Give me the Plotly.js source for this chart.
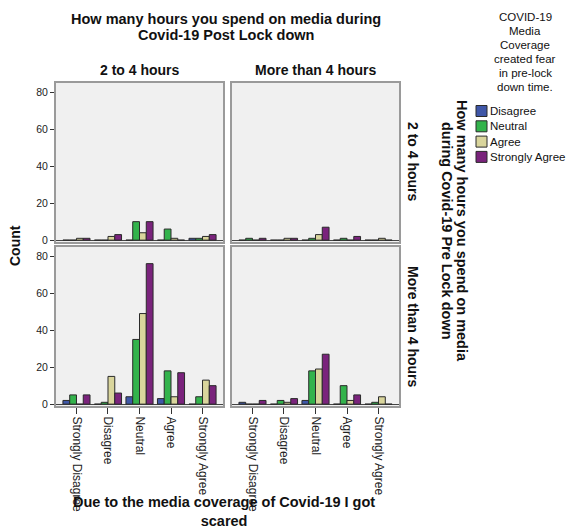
<!DOCTYPE html>
<html>
<head>
<meta charset="utf-8">
<script src="https://cdn.plot.ly/plotly-3.0.1.min.js"></script>
<style>html,body{margin:0;padding:0;background:#fff;}#chart{width:568px;height:531px;}</style>
</head>
<body>
<div id="chart"></div>
<script>
// Categories on the x axis (post lock down response)
const categories = ['Strongly Disagree', 'Disagree', 'Neutral', 'Agree', 'Strongly Agree'];
// Legend series (fear in pre-lock down time)
const seriesNames = ['Disagree', 'Neutral', 'Agree', 'Strongly Agree'];
const seriesColors = ['#3f57a8', '#33b34c', '#d9d59c', '#7a237c'];

// Column facet (Post lock down) and row facet (Pre lock down) labels
const colLabels = ['2 to 4 hours', 'More than 4 hours'];
const rowLabels = ['2 to 4 hours', 'More than 4 hours'];
const legendTitleLines = ['COVID-19', 'Media', 'Coverage', 'created fear', 'in pre-lock', 'down time.'];

// Counts: rows = series (Disagree, Neutral, Agree, Strongly Agree), cols = categories
// Pre 2-4 h / Post 2-4 h
const pre24_post24 = [
  [0, 0, 0, 0, 1],
  [0, 0, 10, 6, 1],
  [1, 2, 4, 1, 2],
  [1, 3, 10, 0, 3]
];
// Pre 2-4 h / Post >4 h
const pre24_postMore = [
  [0, 0, 0, 0, 0],
  [1, 0, 1, 1, 0],
  [0, 1, 3, 0, 1],
  [1, 1, 7, 2, 0]
];
// Pre >4 h / Post 2-4 h
const preMore_post24 = [
  [2, 0, 4, 3, 0],
  [5, 1, 35, 18, 4],
  [0, 15, 49, 4, 13],
  [5, 6, 76, 17, 10]
];
// Pre >4 h / Post >4 h
const preMore_postMore = [
  [1, 0, 2, 0, 0],
  [0, 2, 18, 10, 1],
  [0, 1, 19, 2, 4],
  [2, 3, 27, 5, 0]
];
const yTicks = [0, 20, 40, 60, 80];

const W = 568, H = 531;
const px = (x) => x / W;
const py = (y) => 1 - y / H;
const FONT = 'Liberation Sans, Arial, sans-serif';

const panels = [
  {data: pre24_post24, xa: 'x', ya: 'y'},
  {data: pre24_postMore, xa: 'x2', ya: 'y2'},
  {data: preMore_post24, xa: 'x3', ya: 'y3'},
  {data: preMore_postMore, xa: 'x4', ya: 'y4'}
];

const traces = [];
panels.forEach(p => {
  p.data.forEach((vals, s) => {
    traces.push({
      type: 'bar',
      name: seriesNames[s],
      x: categories,
      y: vals,
      xaxis: p.xa,
      yaxis: p.ya,
      marker: {color: seriesColors[s], line: {color: '#2a2a2a', width: 1}},
      showlegend: false,
      hoverinfo: 'x+y+name'
    });
  });
});

const xDomL = [px(56), px(223)];
const xDomR = [px(232), px(399)];
const yDomT = [py(242), py(83)];
const yDomB = [py(406), py(247)];
const xRange = [-0.65, 4.65];
const yRange = [-1, 85];

function xAxis(domain, anchor, labels) {
  return {
    domain: domain, anchor: anchor, type: 'category',
    categoryorder: 'array', categoryarray: categories,
    range: xRange, automargin: false,
    showgrid: false, zeroline: false,
    showline: true, mirror: true, linecolor: '#9a9a9a', linewidth: 2,
    ticks: labels ? 'outside' : '', ticklen: 6, tickcolor: '#333', tickwidth: 1,
    showticklabels: labels, tickangle: 90,
    tickfont: {family: FONT, size: 12, color: '#222'}
  };
}
function yAxis(domain, anchor, labels) {
  return {
    domain: domain, anchor: anchor, range: yRange, automargin: false,
    showgrid: false, zeroline: true, zerolinecolor: '#444', zerolinewidth: 1,
    showline: true, mirror: true, linecolor: '#9a9a9a', linewidth: 2,
    tickvals: yTicks, ticks: labels ? 'outside' : '', ticklen: 4, tickcolor: '#333',
    showticklabels: labels,
    tickfont: {family: FONT, size: 10.5, color: '#222'}
  };
}

const annotations = [];
function ann(text, x, y, size, opts) {
  annotations.push(Object.assign({
    text: text, x: px(x), y: py(y), xref: 'paper', yref: 'paper',
    xanchor: 'center', yanchor: 'middle', showarrow: false,
    font: {family: FONT, size: size, color: '#111'}
  }, opts || {}));
}
ann('<b>How many hours you spend on media during</b>', 226, 19, 14.5);
ann('<b>Covid-19 Post Lock down</b>', 226, 35, 14.5);
ann('<b>' + colLabels[0] + '</b>', 139.5, 70, 14);
ann('<b>' + colLabels[1] + '</b>', 315.5, 70, 14);
ann('<b>Count</b>', 15, 246, 14, {textangle: -90});
ann('<b>' + rowLabels[0] + '</b>', 413, 162, 14, {textangle: 90});
ann('<b>' + rowLabels[1] + '</b>', 413, 327, 14, {textangle: 90});
ann('<b>How many hours you spend on media</b>', 462, 231, 14.5, {textangle: 90});
ann('<b>during Covid-19 Pre Lock down</b>', 447, 231, 14.5, {textangle: 90});
ann('<b>Due to the media coverage of Covid-19 I got<br>scared</b>', 224, 531, 14.5, {yanchor: 'bottom'});
legendTitleLines.forEach((t, i) => ann(t, 525, 17 + i * 14, 11.5));

// legend built from the series arrays
const shapes = [];
const legTop = 111, legStep = 15.3;
seriesNames.forEach((n, i) => {
  const cy = legTop + i * legStep;
  shapes.push({type: 'rect', xref: 'paper', yref: 'paper',
    x0: px(476), x1: px(487), y0: py(cy + 5.5), y1: py(cy - 5.5),
    fillcolor: seriesColors[i], line: {color: '#2a2a2a', width: 1}});
  ann(n, 488, cy, 11.5, {xanchor: 'left'});
});

const layout = {
  width: W, height: H,
  margin: {l: 0, r: 0, t: 0, b: 0},
  paper_bgcolor: '#ffffff', plot_bgcolor: '#f0f0f0',
  barmode: 'group', bargap: 0.14, bargroupgap: 0,
  showlegend: false,
  xaxis: xAxis(xDomL, 'y', false),
  yaxis: yAxis(yDomT, 'x', true),
  xaxis2: xAxis(xDomR, 'y2', false),
  yaxis2: yAxis(yDomT, 'x2', false),
  xaxis3: xAxis(xDomL, 'y3', true),
  yaxis3: yAxis(yDomB, 'x3', true),
  xaxis4: xAxis(xDomR, 'y4', true),
  yaxis4: yAxis(yDomB, 'x4', false),
  annotations: annotations,
  shapes: shapes,
  font: {family: FONT}
};

Plotly.newPlot('chart', traces, layout, {staticPlot: true, displayModeBar: false});
</script>
</body>
</html>
